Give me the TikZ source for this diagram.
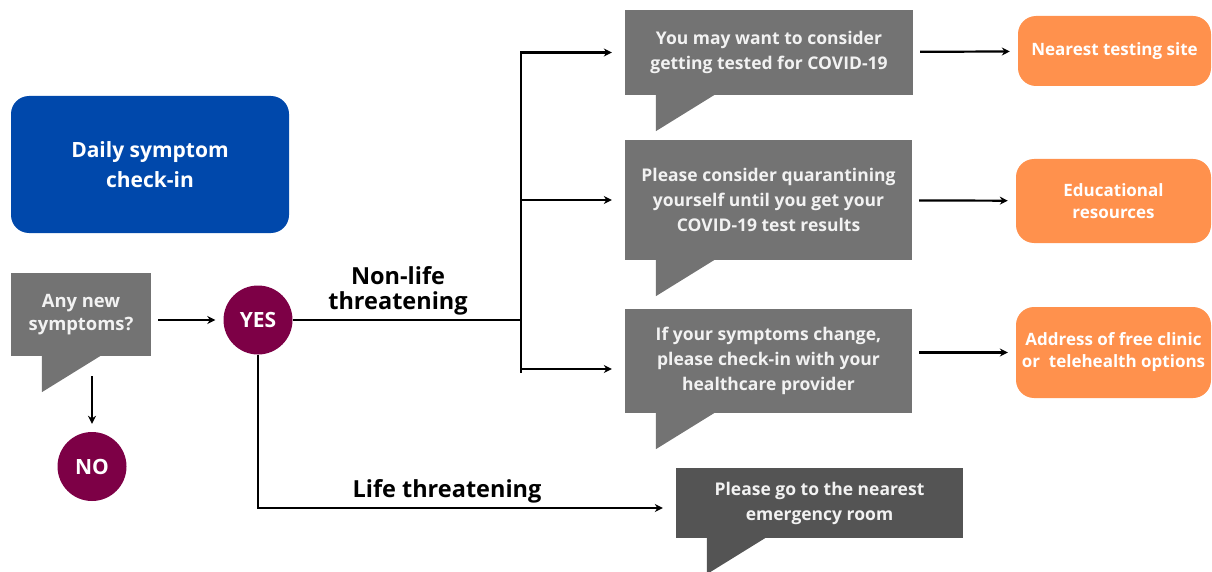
\documentclass[tikz,border=0pt]{standalone}
\usepackage{fontspec}
\setmainfont{Open Sans}
\usetikzlibrary{arrows.meta}

\definecolor{checkblue}{RGB}{0,72,171}
\definecolor{answerred}{RGB}{125,0,70}
\definecolor{bubblegray}{RGB}{115,115,115}
\definecolor{urgentgray}{RGB}{84,84,84}
\definecolor{helporange}{RGB}{255,145,77}
\definecolor{bubbletext}{RGB}{242,242,242}

\newcommand{\bubbletail}[2]{%
  \fill[#2] ([yshift=0.5pt]#1.south west) ++(31,0) -- ++(0,36.5) -- ++(59,-36.5) -- cycle;}

\begin{document}
\begin{tikzpicture}[x=1pt,y=-1pt,
    bubble/.style={fill=bubblegray, text=bubbletext, align=center, inner sep=0pt,
      font=\bfseries\fontsize{17.5}{25}\selectfont},
    helpbox/.style={fill=helporange, text=white, align=center, inner sep=0pt,
      rounded corners=18pt, font=\bfseries\fontsize{17}{22}\selectfont},
    answer/.style={circle, fill=answerred, text=white, inner sep=0pt,
      minimum size=69pt, font=\bfseries\fontsize{21}{24}\selectfont},
    branchlabel/.style={align=center, font=\bfseries\fontsize{23.5}{25}\selectfont},
    flow/.style={line width=2.2pt, -{Stealth[length=8pt,width=8pt]}}]
  \useasboundingbox (0,0) rectangle (1212,572);

  % start
  \node[fill=checkblue, text=white, rounded corners=18pt, align=center,
    minimum width=278pt, minimum height=137pt, inner sep=0pt,
    font=\bfseries\fontsize{21}{30}\selectfont] (daily) at (150,164.5)
    {Daily symptom\\check-in};

  \node[bubble, minimum width=140pt, minimum height=83pt,
    font=\bfseries\fontsize{18.4}{22.5}\selectfont] (any) at (81,314.5)
    {Any new\\symptoms?};
  \bubbletail{any}{bubblegray}

  \node[answer] (yes) at (258,320) {YES};
  \node[answer] (no) at (92,466.5) {NO};

  % advice
  \node[bubble, minimum width=288pt, minimum height=85pt] (test) at (769,52.5)
    {You may want to consider\\getting tested for COVID-19};
  \bubbletail{test}{bubblegray}
  \node[bubble, minimum width=287pt, minimum height=120pt] (quar) at (768.5,200)
    {Please consider quarantining\\yourself until you get your\\COVID-19 test results};
  \bubbletail{quar}{bubblegray}
  \node[bubble, minimum width=287pt, minimum height=104pt] (change) at (768.5,361)
    {If your symptoms change,\\please check-in with your\\healthcare provider};
  \bubbletail{change}{bubblegray}
  \node[bubble, fill=urgentgray, minimum width=287pt, minimum height=70pt] (er) at (819.5,503)
    {Please go to the nearest\\emergency room};
  \bubbletail{er}{urgentgray}

  % resources
  \node[helpbox, minimum width=193pt, minimum height=70pt] (site) at (1114.5,51)
    {Nearest testing site};
  \node[helpbox, minimum width=195pt, minimum height=84pt] (edu) at (1113.5,201)
    {Educational\\resources};
  \node[helpbox, minimum width=195pt, minimum height=91pt] (clinic) at (1113.5,352.5)
    {Address of free clinic\\or\ \ telehealth options};

  \node[branchlabel] (nonlife) at (398,291) {Non-life\\threatening};
  \node[branchlabel] (life) at (447,491) {Life threatening};

  \coordinate (split) at (521,320);
  \coordinate (low) at (521,369);

  \draw[flow, shorten <=7pt, shorten >=8pt] (any.east |- yes) -- (yes);
  \draw[flow, shorten <=20pt, shorten >=8pt] (no.north |- any.south) -- (no);
  \draw[line width=2.2pt] (yes) -- (split);
  \draw[flow, shorten >=13pt] (split) |- (test);
  \draw[flow, shorten >=13pt] (split |- quar) -- (quar);
  \draw[line width=2.2pt] (split) -- ([yshift=-4pt]low);
  \draw[flow, shorten >=13pt] (low) -- (low -| change.west);
  \draw[flow, shorten >=13pt] (yes.south) |- ([yshift=-5pt]er.west);

  \draw[flow, shorten <=7pt, shorten >=8pt] (test) -- (site);
  \draw[flow, shorten <=7pt, shorten >=8pt] (quar) -- (edu);
  \draw[flow, shorten <=7pt, shorten >=8pt] (change.east |- clinic) -- (clinic);
\end{tikzpicture}
\end{document}
